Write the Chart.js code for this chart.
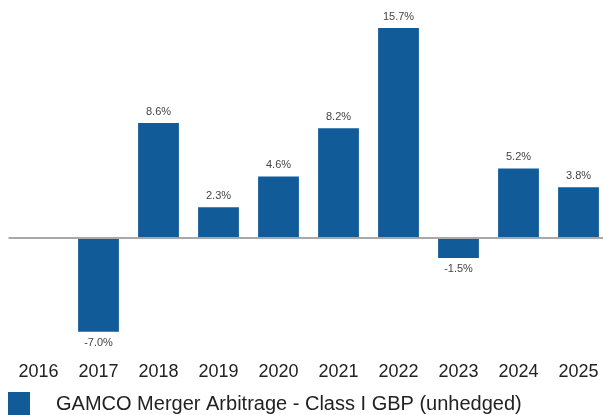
<!DOCTYPE html>
<html>
<head>
<meta charset="utf-8">
<script src="https://cdn.jsdelivr.net/npm/chart.js@4.4.1/dist/chart.umd.min.js"></script>
<style>
  html, body { margin: 0; padding: 0; background: #fff; overflow: hidden; }
  #wrap { position: relative; width: 603px; height: 415px; overflow: hidden; }
  #chart { position: absolute; left: 0; top: 0; }
</style>
</head>
<body>
<div id="wrap"><canvas id="chart" width="612" height="415"></canvas></div>
<script>
// Calendar-year returns (%)
const years = ['2016', '2017', '2018', '2019', '2020', '2021', '2022', '2023', '2024', '2025'];
const returns = [null, -7.0, 8.6, 2.3, 4.6, 8.2, 15.7, -1.5, 5.2, 3.8];
const seriesName = 'GAMCO Merger Arbitrage - Class I GBP (unhedged)';

const BAR_BLUE = '#105b98';
const FONT = "'Liberation Sans', Arial, sans-serif";

// Value labels above / below each bar
const valueLabels = {
  id: 'valueLabels',
  afterDatasetsDraw(chart) {
    const ctx = chart.ctx;
    const meta = chart.getDatasetMeta(0);
    ctx.save();
    ctx.font = '11px ' + FONT;
    ctx.fillStyle = '#444';
    ctx.textAlign = 'center';
    ctx.textBaseline = 'middle';
    meta.data.forEach((bar, i) => {
      const v = returns[i];
      if (v === null) return;
      const y = v >= 0 ? bar.y - 11 : bar.y + 11;
      ctx.fillText(v.toFixed(1) + '%', bar.x, y);
    });
    ctx.restore();
  }
};

// Zero baseline drawn across the plot
const zeroLine = {
  id: 'zeroLine',
  afterDatasetsDraw(chart) {
    const { ctx, chartArea, scales } = chart;
    const y = scales.y.getPixelForValue(0);
    ctx.save();
    ctx.strokeStyle = '#a8a8a8';
    ctx.lineWidth = 2;
    ctx.beginPath();
    ctx.moveTo(chartArea.left, y);
    ctx.lineTo(chartArea.right, y);
    ctx.stroke();
    ctx.restore();
  }
};

// Legend swatch and series name at the bottom
const bottomLegend = {
  id: 'bottomLegend',
  afterDraw(chart) {
    const ctx = chart.ctx;
    ctx.save();
    ctx.fillStyle = BAR_BLUE;
    ctx.fillRect(8, 392, 22, 23);
    ctx.fillStyle = '#222';
    ctx.font = '20px ' + FONT;
    ctx.textAlign = 'left';
    ctx.textBaseline = 'alphabetic';
    ctx.fillText(chart.data.datasets[0].label, 56, 410);
    ctx.restore();
  }
};

new Chart(document.getElementById('chart'), {
  type: 'bar',
  data: {
    labels: years,
    datasets: [{
      label: seriesName,
      data: returns,
      backgroundColor: BAR_BLUE,
      borderWidth: 0,
      barPercentage: 0.85,
      categoryPercentage: 0.8
    }]
  },
  options: {
    responsive: false,
    animation: false,
    devicePixelRatio: 1,
    layout: { padding: { left: 8.5, right: 3.5, top: 10, bottom: 35 } },
    plugins: { legend: { display: false }, tooltip: { enabled: false } },
    scales: {
      x: {
        offset: true,
        grid: { display: false, drawTicks: false },
        border: { display: false },
        ticks: { color: '#222', font: { family: FONT, size: 18 }, padding: 11, maxRotation: 0 },
        afterFit(scale) { scale.height = 30; }
      },
      y: {
        display: false,
        min: -8.37,
        max: 17.04
      }
    }
  },
  plugins: [zeroLine, valueLabels, bottomLegend]
});
</script>
</body>
</html>
